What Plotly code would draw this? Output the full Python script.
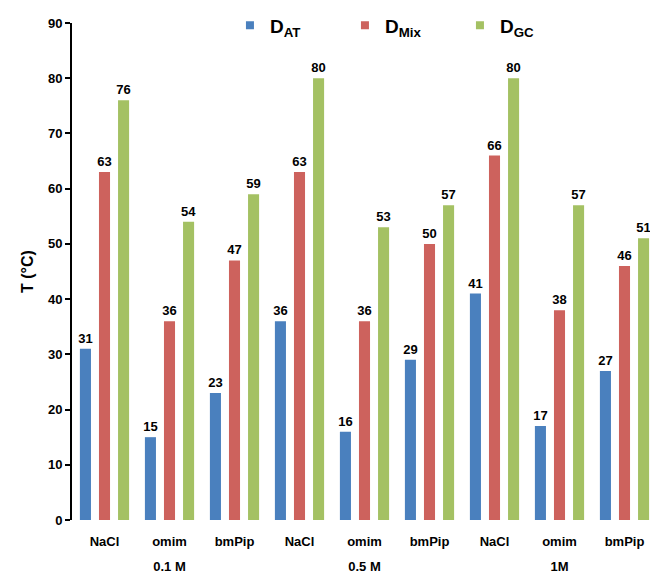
import plotly.graph_objects as go

concentrations = ["0.1 M", "0.5 M", "1M"]
salts = ["NaCl", "omim", "bmPip"]

d_at = [31, 15, 23, 36, 16, 29, 41, 17, 27]
d_mix = [63, 36, 47, 63, 36, 50, 66, 38, 46]
d_gc = [76, 54, 59, 80, 53, 57, 80, 57, 51]

series_names = ["D<sub>AT</sub>", "D<sub>Mix</sub>", "D<sub>GC</sub>"]
series_colors = ["#4A80BE", "#CD625D", "#A4C163"]

x_labels = [s for _ in concentrations for s in salts]
x_pos = list(range(len(x_labels)))
group_pos = [i * len(salts) + (len(salts) - 1) / 2 for i in range(len(concentrations))]

FONT = "Liberation Sans"

fig = go.Figure()
for name, vals, col in zip(series_names, [d_at, d_mix, d_gc], series_colors):
    fig.add_trace(go.Bar(
        x=x_pos, y=vals, name=name, showlegend=False,
        marker=dict(color=col, line=dict(width=0)),
        text=[str(v) for v in vals], textposition="outside",
        constraintext="none",
        textfont=dict(family=FONT, size=13, color="black", weight="bold"),
        cliponaxis=False,
    ))
# legend entries with small square symbols
for name, col in zip(series_names, series_colors):
    fig.add_trace(go.Scatter(x=[None], y=[None], name=name, mode="markers",
                             marker=dict(symbol="square", size=8, color=col)))
# invisible trace on the second x axis to carry the group labels
fig.add_trace(go.Scatter(x=group_pos, y=[0] * len(group_pos), xaxis="x2",
                         mode="markers", marker=dict(opacity=0), showlegend=False,
                         hoverinfo="skip"))

fig.update_layout(
    width=650, height=571,
    paper_bgcolor="white", plot_bgcolor="white",
    margin=dict(l=64, r=1, t=15, b=59, autoexpand=False),
    barmode="group", bargap=0.12, bargroupgap=0.42,
    font=dict(family=FONT, color="black"),
    legend=dict(
        orientation="h", x=0.27, y=0.995, xanchor="left", yanchor="middle",
        font=dict(family=FONT, size=19, color="black", weight="bold"),
        entrywidth=70, entrywidthmode="pixels",
        itemwidth=30, bgcolor="rgba(0,0,0,0)",
    ),
    xaxis=dict(
        range=[-0.5, 8.5], tickvals=x_pos, ticktext=x_labels,
        showgrid=False, showline=False, zeroline=False, ticks="",
        tickfont=dict(family=FONT, size=13, color="black", weight="bold"),
        ticklabelstandoff=12,
    ),
    xaxis2=dict(
        overlaying="x", side="bottom", anchor="y",
        range=[-0.5, 8.5], tickvals=group_pos, ticktext=concentrations,
        showgrid=False, showline=False, zeroline=False, ticks="",
        tickfont=dict(family=FONT, size=13, color="black", weight="bold"),
        ticklabelstandoff=37,
    ),
    yaxis=dict(
        range=[0, 90], dtick=10, showgrid=False, zeroline=False,
        showline=True, linecolor="black", linewidth=2,
        ticks="outside", ticklen=5, tickwidth=2, tickcolor="black",
        tickfont=dict(family=FONT, size=13, color="black", weight="bold"),
        title=dict(text="T (°C)", font=dict(family=FONT, size=16, color="black", weight="bold"), standoff=10),
    ),
)

fig.write_html("out.html")
